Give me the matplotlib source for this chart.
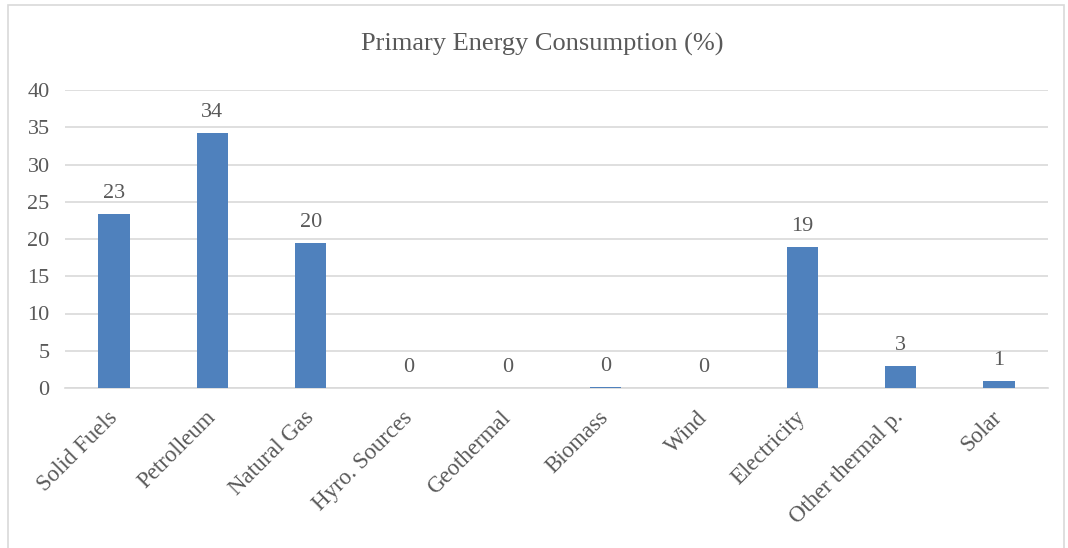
import matplotlib
matplotlib.use("Agg")
import matplotlib.pyplot as plt
from matplotlib.patches import Rectangle

categories = ["Solid Fuels", "Petrolleum", "Natural Gas", "Hyro. Sources", "Geothermal",
              "Biomass", "Wind", "Electricity", "Other thermal p.", "Solar"]
values = [23.4, 34.2, 19.5, 0.0, 0.0, 0.1, 0.0, 18.9, 3.0, 0.9]
yticks = [0, 5, 10, 15, 20, 25, 30, 35, 40]
title = "Primary Energy Consumption (%)"

plt.rcParams['font.family'] = ['Liberation Serif', 'DejaVu Serif']
text_color = "#595959"

fig = plt.figure(figsize=(10.68, 5.48), dpi=100)
ax = fig.add_axes([65/1068, 1 - 388/548, 983/1068, 298/548])

x = list(range(len(categories)))
ax.bar(x, values, width=0.32, color="#4F81BD", zorder=3)
for xi, v in zip(x, values):
    ax.annotate(f"{v:.0f}", (xi, v), xytext=(0, 8), textcoords="offset points",
                ha="center", va="bottom", fontsize=16, color=text_color)

ax.set_xlim(-0.5, len(categories) - 0.5)
ax.set_ylim(0, 40)
ax.set_yticks(yticks)
ax.set_yticklabels([str(t) for t in yticks], fontsize=16, color=text_color)
ax.set_xticks(x)
ax.set_xticklabels(categories, rotation=45, ha="right", va="center", rotation_mode="anchor",
                   fontsize=16.5, color=text_color)
ax.tick_params(axis="y", length=0, pad=11)
ax.tick_params(axis="x", length=0, pad=19)
ax.grid(axis="y", color="#D9D9D9", linewidth=1.2, zorder=0)
for s in ["top", "right", "left"]:
    ax.spines[s].set_visible(False)
ax.spines["bottom"].set_color("#D9D9D9")
ax.spines["bottom"].set_linewidth(1.2)

fig.text(542/1068, 1 - 44/548, title, ha="center", va="center", fontsize=19, color=text_color)
fig.patches.append(Rectangle((8/1068, -0.05), 1056/1068, 1.0 - 5/548 + 0.05, transform=fig.transFigure,
                             fill=False, edgecolor="#D9D9D9", linewidth=1.2))

fig.savefig("out.png", dpi=100)
